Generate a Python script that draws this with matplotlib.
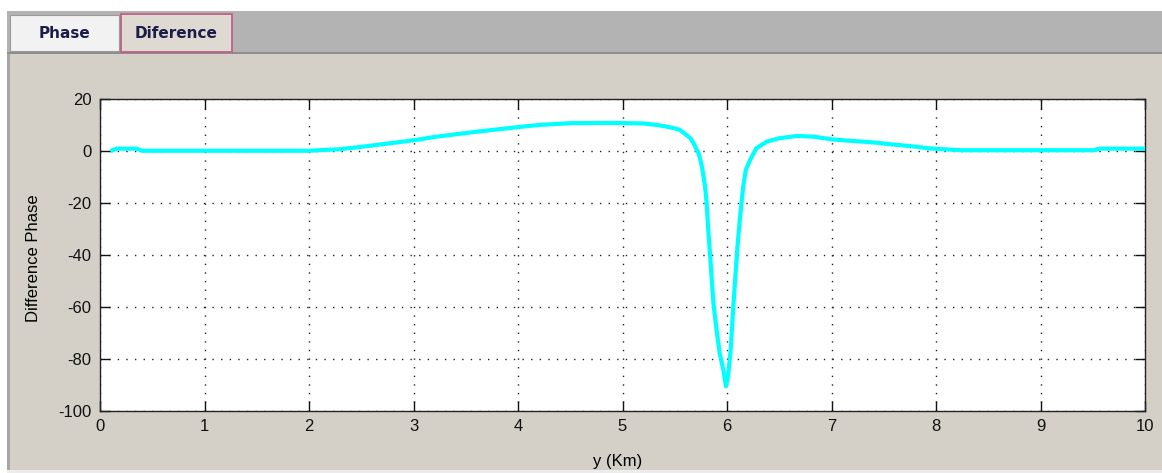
import matplotlib
matplotlib.use("Agg")
import matplotlib.pyplot as plt
from matplotlib.patches import Rectangle

# ---- data ----
x_km = [0.10, 0.16, 0.35, 0.40, 1.00, 2.00, 2.30, 2.50, 2.70, 2.90, 3.05, 3.20, 3.40,
        3.60, 3.80, 4.00, 4.20, 4.50, 4.90, 5.20, 5.33, 5.42, 5.50, 5.55, 5.61,
        5.65, 5.68, 5.71, 5.73, 5.76, 5.79, 5.805, 5.82, 5.84, 5.855, 5.87, 5.90,
        5.93, 5.965, 5.99, 6.01, 6.035, 6.06, 6.08, 6.10, 6.125, 6.155, 6.18,
        6.22, 6.28, 6.38, 6.50, 6.67, 6.83, 7.00, 7.15, 7.30, 7.43, 7.56, 7.75,
        7.94, 8.23, 9.00, 9.52, 9.56, 10.00]
diff_phase = [0.0, 0.9, 0.9, 0.1, 0.1, 0.1, 0.7, 1.6, 2.6, 3.6, 4.4, 5.4, 6.4,
              7.4, 8.3, 9.2, 10.0, 10.7, 10.8, 10.6, 10.0, 9.4, 8.7, 8.1, 6.2,
              4.9, 3.0, 0.5, -1.0, -6.0, -13.7, -20.0, -30.0, -41.0, -50.0, -58.5, -68.8,
              -77.8, -84.2, -90.5, -86.8, -76.5, -60.0, -48.3, -36.8, -25.3, -13.7, -7.3,
              -3.5, 1.0, 3.6, 4.9, 5.8, 5.5, 4.5, 4.0, 3.6, 3.2, 2.6, 1.9,
              1.0, 0.3, 0.3, 0.3, 0.9, 0.9]
x_ticks = [0, 1, 2, 3, 4, 5, 6, 7, 8, 9, 10]
y_ticks = [-100, -80, -60, -40, -20, 0, 20]
tab_labels = ["Phase", "Diference"]
x_label = "y (Km)"
y_label = "Difference Phase"

W, H = 1162, 473
fig = plt.figure(figsize=(W / 100, H / 100), dpi=100, facecolor="white")


def px_rect(x0, y0, x1, y1, z, **kw):
    """rectangle given in pixel coords (top-left origin)"""
    r = Rectangle((x0 / W, 1 - y1 / H), (x1 - x0) / W, (y1 - y0) / H,
                  transform=fig.transFigure, zorder=z, **kw)
    fig.patches.append(r)
    return r


# window decorations
px_rect(7, 11, W, 53, -10, facecolor="#b3b3b3", edgecolor="none")
px_rect(7, 52, W, 54, -10, facecolor="#8e8e8e", edgecolor="none")
px_rect(7, 54, W, 470, -10, facecolor="#d4d0c8", edgecolor="none")
px_rect(7, 54, 10, 470, -9, facecolor="#a6a6a6", edgecolor="none")
px_rect(7, 470, W, H, -10, facecolor="#ececec", edgecolor="none")
# tabs
px_rect(10, 15, 119, 51, -8, facecolor="#f2f2f2", edgecolor="#9a9a9a", linewidth=0.8)
px_rect(121, 14, 232, 52, -8, facecolor="#dedad2", edgecolor="#c0608a", linewidth=1.3)
fig.text(64 / W, 1 - 33 / H, tab_labels[0], ha="center", va="center",
         fontsize=11, fontweight="bold", family="DejaVu Sans", color="#1c1c48")
fig.text(176.5 / W, 1 - 33 / H, tab_labels[1], ha="center", va="center",
         fontsize=11, fontweight="bold", family="DejaVu Sans", color="#1c1c48")

# axes
ax_l, ax_r, ax_t, ax_b = 100, 1145, 99, 411
ax = fig.add_axes([ax_l / W, 1 - ax_b / H, (ax_r - ax_l) / W, (ax_b - ax_t) / H])
ax.set_zorder(5)
ax.set_facecolor("white")
ax.plot(x_km, diff_phase, color="#00ffff", linewidth=3.0, solid_joinstyle="round",
        solid_capstyle="butt", zorder=3)
ax.set_xlim(0, 10)
ax.set_ylim(-100, 20)
ax.set_xticks(x_ticks)
ax.set_yticks(y_ticks)
ax.set_xticklabels([str(v) for v in x_ticks])
ax.set_yticklabels([str(v) for v in y_ticks])
ax.grid(True, color="#222222", linestyle=(0, (1, 5.2)), linewidth=1.0)
ax.tick_params(direction="in", length=7, width=1.0, top=True, right=True,
               labelsize=12, colors="#111111", pad=6)
for lab in ax.get_xticklabels() + ax.get_yticklabels():
    lab.set_family("Liberation Sans")
for s in ax.spines.values():
    s.set_linewidth(1.0)
    s.set_color("#222222")
ax.set_xlabel(x_label, fontsize=12, family="Liberation Sans")
ax.set_ylabel(y_label, fontsize=12, family="Liberation Sans")
ax.xaxis.set_label_coords(0.495, -(461 - ax_b) / (ax_b - ax_t), transform=ax.transAxes)
ax.yaxis.set_label_coords(-(ax_l - 33) / (ax_r - ax_l), 0.49, transform=ax.transAxes)
ax.xaxis.label.set_va("center")
ax.yaxis.label.set_va("center")

fig.savefig("out.png", dpi=100, facecolor=fig.get_facecolor())
